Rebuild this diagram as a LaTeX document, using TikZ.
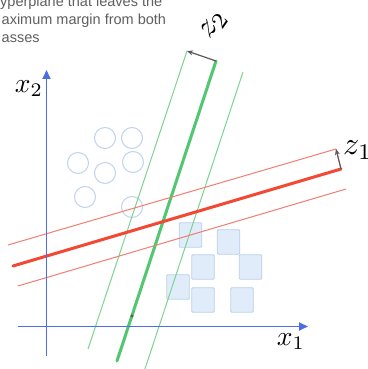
\documentclass[tikz,border=0pt]{standalone}
\usepackage{fontspec}
\usepackage{graphicx}
\newfontfamily\notefont{Liberation Sans}
\usetikzlibrary{arrows.meta}
\definecolor{axisblue}{RGB}{75,110,228}
\definecolor{redthick}{RGB}{242,72,52}
\definecolor{redthin}{RGB}{242,125,112}
\definecolor{greenthick}{RGB}{82,198,112}
\definecolor{greenthin}{RGB}{125,212,145}
\definecolor{circblue}{RGB}{192,210,238}
\definecolor{sqfill}{RGB}{224,236,250}
\definecolor{sqdraw}{RGB}{186,207,235}
\definecolor{notegray}{RGB}{95,95,95}
\definecolor{arrowgray}{RGB}{90,90,90}
\begin{document}
\begin{tikzpicture}[x=1pt,y=1pt,
  sq/.style={draw=sqdraw,fill=sqfill,line width=0.9pt,rounded corners=1pt,minimum width=22.5pt,minimum height=24.5pt,inner sep=0pt},
  circ/.style={circle,draw=circblue,line width=1pt,minimum size=21pt,inner sep=0pt},
  axisline/.style={axisblue,line width=1.8pt},
  thickred/.style={redthick,line width=3pt},
  thinred/.style={redthin,line width=1pt},
  thickgreen/.style={greenthick,line width=3pt},
  thingreen/.style={greenthin,line width=1pt},
  marginarrow/.style={arrowgray,line width=1.2pt,-{Stealth[length=6pt,width=5pt]}},
  notetext/.style={font=\notefont\fontsize{14.5}{14.5}\selectfont,text=notegray,anchor=base west,inner sep=0pt},
  mathlabel/.style={font=\fontsize{10}{12}\selectfont,inner sep=0pt}
]
\useasboundingbox (0,0) rectangle (367,369);
\clip (0,0) rectangle (367,369);
\fill[white] (0,0) rectangle (367,369);

% note text
\node[notetext] (n1) at (0,362) {yperplane that leaves the};
\node[notetext] (n2) at (1.5,344) {aximum margin from both};
\node[notetext] (n3) at (1.5,326) {asses};

% squares
\node[sq] (s1) at (190.5,134) {};
\node[sq] (s2) at (228.5,127) {};
\node[sq] (s3) at (203,102) {};
\node[sq] (s4) at (250.5,102) {};
\node[sq] (s5) at (178,82) {};
\node[sq] (s6) at (203,69) {};
\node[sq] (s7) at (242,69) {};

% circles
\node[circ] (c1) at (105,231) {};
\node[circ] (c2) at (132,231) {};
\node[circ] (c3) at (78,206) {};
\node[circ] (c4) at (105,196) {};
\node[circ] (c5) at (133,207) {};
\node[circ] (c6) at (85,172) {};
\node[circ] (c7) at (132,162) {};

% green lines
\coordinate (g1a) at (117,8);
\coordinate (g1b) at (216,308);
\coordinate (g2a) at (88,20);
\coordinate (g2b) at (187,318);
\coordinate (g3a) at (142,-9);
\coordinate (g3b) at (243,297);
\draw[thingreen] (g2a) -- (g2b);
\draw[thingreen] (g3a) -- (g3b);
\draw[thickgreen,line cap=round] (g1a) -- (g1b);

% red lines
\coordinate (r1a) at (13,103);
\coordinate (r1b) at (341,200);
\coordinate (r2a) at (8,124);
\coordinate (r2b) at (336,220);
\coordinate (r3a) at (18,83);
\coordinate (r3b) at (346,180);
\draw[thinred] (r2a) -- (r2b);
\draw[thinred] (r3a) -- (r3b);
\draw[thinred] (r1b) -- (r2b);
\draw[thickred,line cap=round] (r1a) -- (r1b);

% axes
\coordinate (o1) at (18,42.5);
\coordinate (x1end) at (308,42.5);
\coordinate (o2) at (46.5,13);
\coordinate (x2end) at (46.5,299);
\draw[axisline,-{Triangle[length=9pt,width=8pt]}] (o1) -- (x1end);
\draw[axisline,-{Triangle[length=9pt,width=8pt]}] (o2) -- (x2end);

% margin arrows
\draw[marginarrow] (g1b) -- (g2b);
\draw[marginarrow] (r1b) -- (r2b);

% small mark
\fill[arrowgray] (132,53) circle (1.6pt);

% labels
\node[mathlabel] (lx1) at (291,27) {\scalebox{2.75}{$x_1$}};
\node[mathlabel] (lx2) at (29,280) {\scalebox{2.75}{$x_2$}};
\node[mathlabel,rotate=55] (lz2) at (214,344) {\scalebox{3.2}{$z_2$}};
\node[mathlabel,anchor=west] (lz1) at (343,219) {\scalebox{3.2}{$z_1$}};
\end{tikzpicture}
\end{document}
